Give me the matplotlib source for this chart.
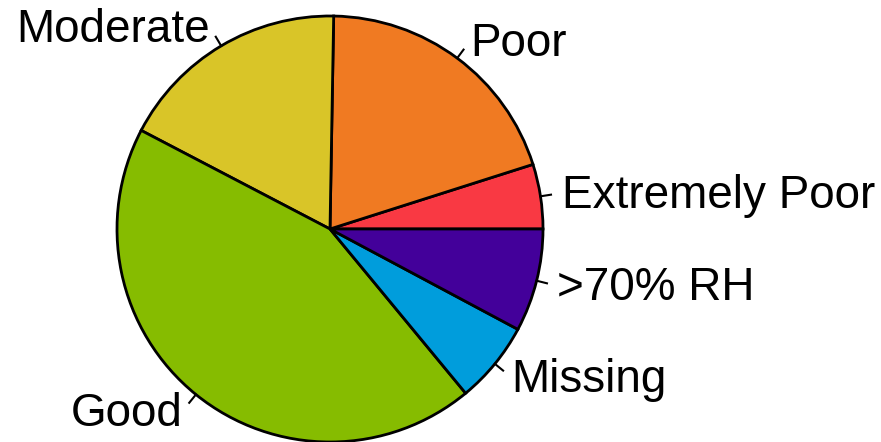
import numpy as np
import matplotlib
matplotlib.use('Agg')
import matplotlib.pyplot as plt

labels = ['Extremely Poor', 'Poor', 'Moderate', 'Good', 'Missing', '>70% RH']
shares = [4.9, 19.8, 17.6, 43.6, 6.2, 7.8]
colors = ['#F93943', '#F07A22', '#D9C528', '#86BC00', '#009DDC', '#43009A']

plt.rcParams['font.family'] = ['Liberation Sans', 'DejaVu Sans']

fig = plt.figure(figsize=(8.81, 4.42), dpi=100)
ax = fig.add_axes([0, 0, 1, 1])

# pie drawn counter-clockwise from 0 degrees, like R's pie()
wedges, _ = ax.pie(shares, colors=colors, startangle=0, counterclock=True,
                   radius=1.0, center=(0, 0),
                   wedgeprops=dict(edgecolor='black', linewidth=2))

# labels with short tick marks
angles = np.cumsum([0] + shares) / sum(shares) * 2 * np.pi
for i, lab in enumerate(labels):
    mid = (angles[i] + angles[i + 1]) / 2
    c, s = np.cos(mid), np.sin(mid)
    ax.plot([c, 1.05 * c], [s, 1.05 * s], color='black', lw=1.5)
    ax.text(1.1 * c, 1.1 * s - 0.012, lab, fontsize=33,
            ha='left' if c > 0 else 'right', va='center')

px = 213.0
ax.set_xlim(-330 / px, (881 - 330) / px)
ax.set_ylim(-213 / px, 229 / px)
ax.set_aspect('auto')
ax.axis('off')

fig.savefig('out.png', dpi=100)
